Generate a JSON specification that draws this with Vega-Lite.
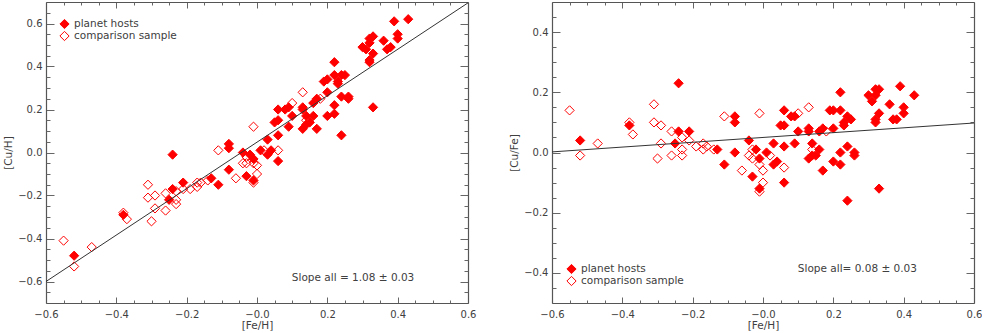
{
  "$schema": "https://vega.github.io/schema/vega-lite/v6.json",
  "padding": {"left": 3, "top": 1, "right": 0, "bottom": 0},
  "datasets": {
    "stars": [
      {"feh": -0.55, "cufe": 0.14, "cuh": -0.41, "sample": "comparison sample"},
      {"feh": -0.52, "cufe": -0.01, "cuh": -0.53, "sample": "comparison sample"},
      {"feh": -0.47, "cufe": 0.03, "cuh": -0.44, "sample": "comparison sample"},
      {"feh": -0.38, "cufe": 0.10, "cuh": -0.28, "sample": "comparison sample"},
      {"feh": -0.37, "cufe": 0.06, "cuh": -0.31, "sample": "comparison sample"},
      {"feh": -0.31, "cufe": 0.16, "cuh": -0.15, "sample": "comparison sample"},
      {"feh": -0.31, "cufe": 0.10, "cuh": -0.21, "sample": "comparison sample"},
      {"feh": -0.30, "cufe": -0.02, "cuh": -0.32, "sample": "comparison sample"},
      {"feh": -0.29, "cufe": 0.09, "cuh": -0.20, "sample": "comparison sample"},
      {"feh": -0.29, "cufe": 0.03, "cuh": -0.26, "sample": "comparison sample"},
      {"feh": -0.26, "cufe": 0.07, "cuh": -0.19, "sample": "comparison sample"},
      {"feh": -0.26, "cufe": -0.01, "cuh": -0.27, "sample": "comparison sample"},
      {"feh": -0.23, "cufe": 0.05, "cuh": -0.18, "sample": "comparison sample"},
      {"feh": -0.23, "cufe": 0.01, "cuh": -0.22, "sample": "comparison sample"},
      {"feh": -0.23, "cufe": -0.01, "cuh": -0.24, "sample": "comparison sample"},
      {"feh": -0.21, "cufe": 0.04, "cuh": -0.17, "sample": "comparison sample"},
      {"feh": -0.19, "cufe": 0.02, "cuh": -0.17, "sample": "comparison sample"},
      {"feh": -0.17, "cufe": 0.03, "cuh": -0.14, "sample": "comparison sample"},
      {"feh": -0.17, "cufe": 0.01, "cuh": -0.16, "sample": "comparison sample"},
      {"feh": -0.16, "cufe": 0.02, "cuh": -0.14, "sample": "comparison sample"},
      {"feh": -0.14, "cufe": 0.01, "cuh": -0.13, "sample": "comparison sample"},
      {"feh": -0.11, "cufe": 0.12, "cuh": 0.01, "sample": "comparison sample"},
      {"feh": -0.06, "cufe": -0.06, "cuh": -0.12, "sample": "comparison sample"},
      {"feh": -0.04, "cufe": -0.01, "cuh": -0.05, "sample": "comparison sample"},
      {"feh": -0.03, "cufe": 0.01, "cuh": -0.02, "sample": "comparison sample"},
      {"feh": -0.03, "cufe": -0.02, "cuh": -0.05, "sample": "comparison sample"},
      {"feh": -0.01, "cufe": 0.13, "cuh": 0.12, "sample": "comparison sample"},
      {"feh": -0.01, "cufe": -0.04, "cuh": -0.05, "sample": "comparison sample"},
      {"feh": -0.01, "cufe": -0.13, "cuh": -0.14, "sample": "comparison sample"},
      {"feh": 0.00, "cufe": -0.06, "cuh": -0.06, "sample": "comparison sample"},
      {"feh": 0.00, "cufe": -0.10, "cuh": -0.10, "sample": "comparison sample"},
      {"feh": 0.02, "cufe": -0.01, "cuh": 0.01, "sample": "comparison sample"},
      {"feh": 0.06, "cufe": -0.05, "cuh": 0.01, "sample": "comparison sample"},
      {"feh": 0.10, "cufe": 0.13, "cuh": 0.23, "sample": "comparison sample"},
      {"feh": 0.13, "cufe": 0.15, "cuh": 0.28, "sample": "comparison sample"},
      {"feh": 0.14, "cufe": 0.01, "cuh": 0.15, "sample": "comparison sample"},
      {"feh": 0.18, "cufe": 0.07, "cuh": 0.25, "sample": "comparison sample"},
      {"feh": -0.52, "cufe": 0.04, "cuh": -0.48, "sample": "planet hosts"},
      {"feh": -0.38, "cufe": 0.09, "cuh": -0.29, "sample": "planet hosts"},
      {"feh": -0.24, "cufe": 0.23, "cuh": -0.01, "sample": "planet hosts"},
      {"feh": -0.24, "cufe": 0.07, "cuh": -0.17, "sample": "planet hosts"},
      {"feh": -0.25, "cufe": 0.03, "cuh": -0.22, "sample": "planet hosts"},
      {"feh": -0.21, "cufe": 0.07, "cuh": -0.14, "sample": "planet hosts"},
      {"feh": -0.13, "cufe": 0.01, "cuh": -0.12, "sample": "planet hosts"},
      {"feh": -0.11, "cufe": -0.04, "cuh": -0.15, "sample": "planet hosts"},
      {"feh": -0.08, "cufe": 0.12, "cuh": 0.04, "sample": "planet hosts"},
      {"feh": -0.08, "cufe": 0.10, "cuh": 0.02, "sample": "planet hosts"},
      {"feh": -0.08, "cufe": 0.00, "cuh": -0.08, "sample": "planet hosts"},
      {"feh": -0.04, "cufe": 0.04, "cuh": 0.00, "sample": "planet hosts"},
      {"feh": -0.03, "cufe": -0.08, "cuh": -0.11, "sample": "planet hosts"},
      {"feh": -0.02, "cufe": 0.01, "cuh": -0.01, "sample": "planet hosts"},
      {"feh": -0.01, "cufe": -0.02, "cuh": -0.03, "sample": "planet hosts"},
      {"feh": -0.01, "cufe": -0.12, "cuh": -0.13, "sample": "planet hosts"},
      {"feh": 0.01, "cufe": 0.00, "cuh": 0.01, "sample": "planet hosts"},
      {"feh": 0.03, "cufe": 0.03, "cuh": 0.06, "sample": "planet hosts"},
      {"feh": 0.03, "cufe": -0.04, "cuh": -0.01, "sample": "planet hosts"},
      {"feh": 0.04, "cufe": -0.03, "cuh": 0.01, "sample": "planet hosts"},
      {"feh": 0.06, "cufe": 0.14, "cuh": 0.20, "sample": "planet hosts"},
      {"feh": 0.05, "cufe": 0.09, "cuh": 0.14, "sample": "planet hosts"},
      {"feh": 0.06, "cufe": 0.09, "cuh": 0.15, "sample": "planet hosts"},
      {"feh": 0.06, "cufe": 0.02, "cuh": 0.08, "sample": "planet hosts"},
      {"feh": 0.06, "cufe": -0.10, "cuh": -0.04, "sample": "planet hosts"},
      {"feh": 0.08, "cufe": 0.12, "cuh": 0.20, "sample": "planet hosts"},
      {"feh": 0.09, "cufe": 0.12, "cuh": 0.21, "sample": "planet hosts"},
      {"feh": 0.10, "cufe": 0.07, "cuh": 0.17, "sample": "planet hosts"},
      {"feh": 0.09, "cufe": 0.03, "cuh": 0.12, "sample": "planet hosts"},
      {"feh": 0.13, "cufe": 0.08, "cuh": 0.21, "sample": "planet hosts"},
      {"feh": 0.13, "cufe": 0.07, "cuh": 0.20, "sample": "planet hosts"},
      {"feh": 0.13, "cufe": -0.02, "cuh": 0.11, "sample": "planet hosts"},
      {"feh": 0.14, "cufe": 0.03, "cuh": 0.17, "sample": "planet hosts"},
      {"feh": 0.15, "cufe": -0.01, "cuh": 0.14, "sample": "planet hosts"},
      {"feh": 0.14, "cufe": -0.01, "cuh": 0.13, "sample": "planet hosts"},
      {"feh": 0.16, "cufe": 0.01, "cuh": 0.17, "sample": "planet hosts"},
      {"feh": 0.16, "cufe": 0.07, "cuh": 0.23, "sample": "planet hosts"},
      {"feh": 0.17, "cufe": 0.08, "cuh": 0.25, "sample": "planet hosts"},
      {"feh": 0.17, "cufe": -0.06, "cuh": 0.11, "sample": "planet hosts"},
      {"feh": 0.19, "cufe": 0.14, "cuh": 0.33, "sample": "planet hosts"},
      {"feh": 0.20, "cufe": 0.14, "cuh": 0.34, "sample": "planet hosts"},
      {"feh": 0.20, "cufe": 0.08, "cuh": 0.28, "sample": "planet hosts"},
      {"feh": 0.20, "cufe": -0.03, "cuh": 0.17, "sample": "planet hosts"},
      {"feh": 0.22, "cufe": 0.20, "cuh": 0.42, "sample": "planet hosts"},
      {"feh": 0.22, "cufe": 0.14, "cuh": 0.36, "sample": "planet hosts"},
      {"feh": 0.22, "cufe": 0.00, "cuh": 0.22, "sample": "planet hosts"},
      {"feh": 0.22, "cufe": -0.04, "cuh": 0.18, "sample": "planet hosts"},
      {"feh": 0.23, "cufe": 0.10, "cuh": 0.33, "sample": "planet hosts"},
      {"feh": 0.23, "cufe": 0.09, "cuh": 0.32, "sample": "planet hosts"},
      {"feh": 0.24, "cufe": 0.12, "cuh": 0.36, "sample": "planet hosts"},
      {"feh": 0.24, "cufe": 0.02, "cuh": 0.26, "sample": "planet hosts"},
      {"feh": 0.24, "cufe": -0.16, "cuh": 0.08, "sample": "planet hosts"},
      {"feh": 0.25, "cufe": 0.11, "cuh": 0.36, "sample": "planet hosts"},
      {"feh": 0.26, "cufe": 0.00, "cuh": 0.26, "sample": "planet hosts"},
      {"feh": 0.26, "cufe": -0.01, "cuh": 0.25, "sample": "planet hosts"},
      {"feh": 0.30, "cufe": 0.19, "cuh": 0.49, "sample": "planet hosts"},
      {"feh": 0.31, "cufe": 0.17, "cuh": 0.48, "sample": "planet hosts"},
      {"feh": 0.32, "cufe": 0.19, "cuh": 0.51, "sample": "planet hosts"},
      {"feh": 0.32, "cufe": 0.21, "cuh": 0.53, "sample": "planet hosts"},
      {"feh": 0.33, "cufe": 0.21, "cuh": 0.54, "sample": "planet hosts"},
      {"feh": 0.39, "cufe": 0.22, "cuh": 0.61, "sample": "planet hosts"},
      {"feh": 0.43, "cufe": 0.19, "cuh": 0.62, "sample": "planet hosts"},
      {"feh": 0.36, "cufe": 0.16, "cuh": 0.52, "sample": "planet hosts"},
      {"feh": 0.40, "cufe": 0.15, "cuh": 0.55, "sample": "planet hosts"},
      {"feh": 0.40, "cufe": 0.13, "cuh": 0.53, "sample": "planet hosts"},
      {"feh": 0.33, "cufe": 0.13, "cuh": 0.46, "sample": "planet hosts"},
      {"feh": 0.32, "cufe": 0.11, "cuh": 0.43, "sample": "planet hosts"},
      {"feh": 0.32, "cufe": 0.10, "cuh": 0.42, "sample": "planet hosts"},
      {"feh": 0.37, "cufe": 0.11, "cuh": 0.48, "sample": "planet hosts"},
      {"feh": 0.38, "cufe": 0.11, "cuh": 0.49, "sample": "planet hosts"},
      {"feh": 0.33, "cufe": -0.12, "cuh": 0.21, "sample": "planet hosts"}
    ]
  },
  "hconcat": [
    {
      "width": 422,
      "height": 301,
      "layer": [
        {
          "data": {"name": "stars"},
          "mark": {"type": "point", "shape": "diamond", "filled": true, "stroke": "#ff0000", "strokeWidth": 1, "size": 85, "opacity": 1},
          "encoding": {
            "x": {"field": "feh", "type": "quantitative", "scale": {"domain": [-0.6, 0.6], "nice": false, "zero": false},
              "axis": {"orient": "bottom", "values": [-0.6, -0.4, -0.2, 0, 0.2, 0.4, 0.6], "tickSize": -6, "labelPadding": 12, "labelExpr": "datum.value == 0 ? '−0.0' : format(datum.value, '.1f')", "title": "[Fe/H]", "titlePadding": 1, "labelFlush": false, "labelOverlap": false}},
            "y": {"field": "cuh", "type": "quantitative", "scale": {"domain": [-0.7, 0.7], "nice": false, "zero": false},
              "axis": {"orient": "left", "values": [-0.6, -0.4, -0.2, 0, 0.2, 0.4, 0.6], "tickSize": -8, "labelPadding": 12, "labelExpr": "format(datum.value, '.1f')", "title": "[Cu/H]", "titlePadding": 4, "labelFlush": false, "labelOverlap": false}},
            "fill": {"field": "sample", "type": "nominal",
              "scale": {"domain": ["planet hosts", "comparison sample"], "range": ["#ff0000", "rgba(255,255,255,0)"]},
              "legend": {"orient": "none", "legendX": 13, "legendY": 16, "title": null, "symbolType": "diamond", "symbolSize": 85, "symbolStrokeColor": "#ff0000", "symbolStrokeWidth": 1, "labelFont": "DejaVu Sans", "labelFontSize": 10.5, "labelColor": "#404040", "rowPadding": 0, "clipHeight": 12, "labelOffset": 4}}
          }
        },
        {
          "data": {"values": [{}]},
          "mark": {"type": "rule", "color": "#333333", "strokeWidth": 1},
          "encoding": {
            "x": {"datum": -0.6, "type": "quantitative", "scale": {"domain": [-0.6, 0.6], "nice": false, "zero": false},
              "axis": {"orient": "bottom", "values": [-0.55, -0.5, -0.45, -0.35, -0.3, -0.25, -0.15, -0.1, -0.05, 0.05, 0.1, 0.15, 0.25, 0.3, 0.35, 0.45, 0.5, 0.55], "tickSize": -3, "labels": false, "domain": false, "title": null}},
            "x2": {"datum": 0.6},
            "y": {"datum": -0.6, "type": "quantitative", "scale": {"domain": [-0.7, 0.7], "nice": false, "zero": false},
              "axis": {"orient": "left", "values": [-0.65, -0.55, -0.5, -0.45, -0.35, -0.3, -0.25, -0.15, -0.1, -0.05, 0.05, 0.1, 0.15, 0.25, 0.3, 0.35, 0.45, 0.5, 0.55, 0.65], "tickSize": -4, "labels": false, "domain": false, "title": null}},
            "y2": {"datum": 0.696}
          }
        },
        {
          "data": {"values": [{}]},
          "mark": {"type": "text", "align": "left", "baseline": "middle", "font": "DejaVu Sans", "fontSize": 10.5, "color": "#404040"},
          "encoding": {
            "x": {"datum": 0.099, "type": "quantitative", "scale": {"domain": [-0.6, 0.6], "nice": false, "zero": false},
              "axis": {"orient": "top", "values": [-0.6, -0.4, -0.2, 0, 0.2, 0.4, 0.6], "tickSize": -6, "labels": false, "title": null}},
            "y": {"datum": -0.585, "type": "quantitative", "scale": {"domain": [-0.7, 0.7], "nice": false, "zero": false},
              "axis": {"orient": "right", "values": [-0.6, -0.4, -0.2, 0, 0.2, 0.4, 0.6], "tickSize": -8, "labels": false, "title": null}},
            "text": {"value": "Slope all = 1.08 ± 0.03"}
          }
        },
        {
          "data": {"values": [{}]},
          "mark": {"type": "text"},
          "encoding": {
            "x": {"datum": 0, "type": "quantitative", "scale": {"domain": [-0.6, 0.6], "nice": false, "zero": false},
              "axis": {"orient": "top", "values": [-0.55, -0.5, -0.45, -0.35, -0.3, -0.25, -0.15, -0.1, -0.05, 0.05, 0.1, 0.15, 0.25, 0.3, 0.35, 0.45, 0.5, 0.55], "tickSize": -3, "labels": false, "domain": false, "title": null}},
            "y": {"datum": 0, "type": "quantitative", "scale": {"domain": [-0.7, 0.7], "nice": false, "zero": false},
              "axis": {"orient": "right", "values": [-0.65, -0.55, -0.5, -0.45, -0.35, -0.3, -0.25, -0.15, -0.1, -0.05, 0.05, 0.1, 0.15, 0.25, 0.3, 0.35, 0.45, 0.5, 0.55, 0.65], "tickSize": -4, "labels": false, "domain": false, "title": null}},
            "text": {"value": ""}
          }
        }
      ],
      "resolve": {"axis": {"x": "independent", "y": "independent"}}
    },
    {
      "width": 422,
      "height": 301,
      "layer": [
        {
          "data": {"name": "stars"},
          "mark": {"type": "point", "shape": "diamond", "filled": true, "stroke": "#ff0000", "strokeWidth": 1, "size": 85, "opacity": 1},
          "encoding": {
            "x": {"field": "feh", "type": "quantitative", "scale": {"domain": [-0.6, 0.6], "nice": false, "zero": false},
              "axis": {"orient": "bottom", "values": [-0.6, -0.4, -0.2, 0, 0.2, 0.4, 0.6], "tickSize": -6, "labelPadding": 12, "labelExpr": "datum.value == 0 ? '−0.0' : format(datum.value, '.1f')", "title": "[Fe/H]", "titlePadding": 1, "labelFlush": false, "labelOverlap": false}},
            "y": {"field": "cufe", "type": "quantitative", "scale": {"domain": [-0.5, 0.5], "nice": false, "zero": false},
              "axis": {"orient": "left", "values": [-0.4, -0.2, 0, 0.2, 0.4], "tickSize": -8, "labelPadding": 12, "labelExpr": "format(datum.value, '.1f')", "title": "[Cu/Fe]", "titlePadding": 4, "labelFlush": false, "labelOverlap": false}},
            "fill": {"field": "sample", "type": "nominal",
              "scale": {"domain": ["planet hosts", "comparison sample"], "range": ["#ff0000", "rgba(255,255,255,0)"]},
              "legend": {"orient": "none", "legendX": 14, "legendY": 261, "title": null, "symbolType": "diamond", "symbolSize": 85, "symbolStrokeColor": "#ff0000", "symbolStrokeWidth": 1, "labelFont": "DejaVu Sans", "labelFontSize": 10.5, "labelColor": "#404040", "rowPadding": 0, "clipHeight": 12, "labelOffset": 4}}
          }
        },
        {
          "data": {"values": [{}]},
          "mark": {"type": "rule", "color": "#333333", "strokeWidth": 1},
          "encoding": {
            "x": {"datum": -0.6, "type": "quantitative", "scale": {"domain": [-0.6, 0.6], "nice": false, "zero": false},
              "axis": {"orient": "bottom", "values": [-0.55, -0.5, -0.45, -0.35, -0.3, -0.25, -0.15, -0.1, -0.05, 0.05, 0.1, 0.15, 0.25, 0.3, 0.35, 0.45, 0.5, 0.55], "tickSize": -3, "labels": false, "domain": false, "title": null}},
            "x2": {"datum": 0.6},
            "y": {"datum": 0.002, "type": "quantitative", "scale": {"domain": [-0.5, 0.5], "nice": false, "zero": false},
              "axis": {"orient": "left", "values": [-0.45, -0.35, -0.3, -0.25, -0.15, -0.1, -0.05, 0.05, 0.1, 0.15, 0.25, 0.3, 0.35, 0.45], "tickSize": -4, "labels": false, "domain": false, "title": null}},
            "y2": {"datum": 0.098}
          }
        },
        {
          "data": {"values": [{}]},
          "mark": {"type": "text", "align": "left", "baseline": "middle", "font": "DejaVu Sans", "fontSize": 10.5, "color": "#404040"},
          "encoding": {
            "x": {"datum": 0.099, "type": "quantitative", "scale": {"domain": [-0.6, 0.6], "nice": false, "zero": false},
              "axis": {"orient": "top", "values": [-0.6, -0.4, -0.2, 0, 0.2, 0.4, 0.6], "tickSize": -6, "labels": false, "title": null}},
            "y": {"datum": -0.387, "type": "quantitative", "scale": {"domain": [-0.5, 0.5], "nice": false, "zero": false},
              "axis": {"orient": "right", "values": [-0.4, -0.2, 0, 0.2, 0.4], "tickSize": -8, "labels": false, "title": null}},
            "text": {"value": "Slope all= 0.08 ± 0.03"}
          }
        },
        {
          "data": {"values": [{}]},
          "mark": {"type": "text"},
          "encoding": {
            "x": {"datum": 0, "type": "quantitative", "scale": {"domain": [-0.6, 0.6], "nice": false, "zero": false},
              "axis": {"orient": "top", "values": [-0.55, -0.5, -0.45, -0.35, -0.3, -0.25, -0.15, -0.1, -0.05, 0.05, 0.1, 0.15, 0.25, 0.3, 0.35, 0.45, 0.5, 0.55], "tickSize": -3, "labels": false, "domain": false, "title": null}},
            "y": {"datum": 0, "type": "quantitative", "scale": {"domain": [-0.5, 0.5], "nice": false, "zero": false},
              "axis": {"orient": "right", "values": [-0.45, -0.35, -0.3, -0.25, -0.15, -0.1, -0.05, 0.05, 0.1, 0.15, 0.25, 0.3, 0.35, 0.45], "tickSize": -4, "labels": false, "domain": false, "title": null}},
            "text": {"value": ""}
          }
        }
      ],
      "resolve": {"axis": {"x": "independent", "y": "independent"}}
    }
  ],
  "spacing": 33,
  "resolve": {"scale": {"fill": "independent"}, "legend": {"fill": "independent"}},
  "config": {
    "view": {"stroke": null},
    "axis": {"grid": false, "labelFont": "DejaVu Sans", "labelFontSize": 10, "labelColor": "#404040", "titleFont": "DejaVu Sans", "titleFontSize": 10.5, "titleFontWeight": "normal", "titleColor": "#404040", "domainColor": "#555555", "domainWidth": 1.2, "tickColor": "#666666", "tickWidth": 1}
  }
}
